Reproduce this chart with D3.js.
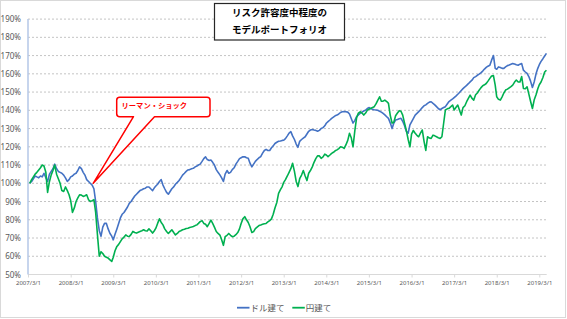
<!DOCTYPE html>
<html>
<head>
<meta charset="utf-8">
<script src="https://cdn.jsdelivr.net/npm/d3@7"></script>
<style>
  body { margin: 0; background: #fff; }
  svg { display: block; font-family: "Noto Sans CJK JP", "Noto Sans", sans-serif; }
</style>
</head>
<body>
<div id="chart"></div>
<script>
// data: half-monthly readings (1st and 16th of each month), first point 2007/3/16
const firstMonth = new Date(2007, 2, 1);

// ドル建て (USD based), %
const usdValues = [
  // 2007/3 - 2008/2
  100, 101, 102.5, 104, 103.5, 103, 104, 103.5, 105.5, 103, 101, 105, 106.5, 108, 110.5, 108, 106.5, 106, 105.5, 104.5, 103, 101, 102,
  // 2008/3 - 2009/2
  103.5, 104, 105, 105.5, 107, 109, 108, 106, 104.5, 102, 101, 100, 99, 97, 90, 81, 74, 71, 76, 78, 78, 75, 72.5, 71,
  // 2009/3 - 2010/2
  69, 72, 75, 78, 81, 83, 84, 85.5, 87, 89, 90, 91.5, 93, 94, 95, 96, 96.5, 97, 97.3, 98, 98, 97, 96, 97.5,
  // 2010/3 - 2011/2
  98.5, 99.5, 101, 102, 99, 97, 95, 94, 95.5, 97, 98, 99.5, 100.5, 101.5, 103, 104.5, 105.5, 106.5, 107.3, 107.5, 108, 108.2, 109, 109.5,
  // 2011/3 - 2012/2
  110, 110.5, 112, 113.5, 114.5, 113, 112.5, 112.8, 111.5, 110, 107.5, 106, 104.6, 103, 101, 105, 107, 105.5, 106, 107.5, 108.5, 110.5, 112, 113.5,
  // 2012/3 - 2013/2
  114, 114.5, 114.5, 114, 113.7, 111, 109, 110.5, 112, 113, 114, 114.6, 116.5, 118, 118.6, 118, 118, 119.5, 120.5, 121.8, 122.5, 123, 123.2, 123.5,
  // 2013/3 - 2014/2
  123.6, 124.5, 126, 127.5, 128.3, 126, 124, 121.5, 119.7, 123, 124, 124.8, 125.5, 127, 128.5, 129.2, 129.5, 129.2, 129, 128.5, 129, 130, 130.5, 131.5,
  // 2014/3 - 2015/2
  132.9, 133.8, 134.7, 135.6, 136.3, 137, 137.4, 138, 138.8, 139.2, 139.3, 139.2, 139, 138, 135.5, 133, 134.5, 136.5, 137.5, 138.3, 139, 139.6, 140.1, 141,
  // 2015/3 - 2016/2
  141.5, 141, 140.5, 140.3, 140.2, 140, 139.5, 139, 138.3, 137.5, 136.5, 135.6, 133, 130, 133, 134.7, 135, 135.4, 135.6, 134, 131.5, 128.5, 127.5, 132,
  // 2016/3 - 2017/2
  133.7, 135.5, 137.4, 138.3, 139.3, 140.3, 141.5, 142.5, 143, 143.8, 144.5, 144.7, 143.8, 143, 142, 141, 140.3, 141, 141.5, 142, 143.5, 144.8, 145.6, 146.3,
  // 2017/3 - 2018/2
  147, 147.8, 148.8, 149.8, 150.9, 151.9, 152.8, 153.7, 154.6, 155.6, 156.5, 157.9, 158.5, 159.2, 159.8, 160.5, 161.5, 162.6, 163.5, 164.2, 164.7, 167.5, 170, 163,
  // 2018/3 - 2019/2
  162.5, 163.8, 163.5, 163, 163, 163.8, 164.5, 164.8, 165.2, 165.6, 165.4, 165, 164.7, 165.3, 165.6, 162, 161, 160.2, 158.5, 156, 152.5, 155.5, 160, 163,
  // 2019/3 - 2019/5
  165, 166.8, 168.3, 169.8, 171.2
];

// 円建て (JPY based), %
const jpyValues = [
  // 2007/3 - 2008/2
  100, 102, 103.5, 105, 106, 107.3, 108.5, 110, 109.5, 106, 95, 101, 104.6, 107, 110, 105, 102.5, 100, 96, 95.5, 98, 96, 93.7,
  // 2008/3 - 2009/2
  90.5, 84, 86.5, 90, 92, 93.7, 93.5, 92.8, 93.2, 93.7, 91, 90, 90.5, 91, 84, 72, 60, 62.5, 61.5, 60, 59.5, 59, 58, 57.2,
  // 2009/3 - 2010/2
  59.5, 63, 65.4, 66.5, 68, 69.5, 70.5, 71.7, 71, 70.8, 72, 73.6, 73, 72.7, 73.2, 73.6, 74, 74.5, 74, 73.8, 75, 74, 72.7, 74,
  // 2010/3 - 2011/2
  75.4, 78, 80.5, 78.5, 77.2, 75, 73.6, 72.5, 73.5, 74.5, 73, 71.7, 72.5, 73.6, 74, 74.5, 74.8, 75.2, 75.4, 75.8, 76, 76.3, 76.8, 77.2,
  // 2011/3 - 2012/2
  78, 79, 79.5, 78, 77.5, 76.2, 78, 79.8, 78, 76, 73.6, 72.5, 71.6, 69, 66, 70.7, 71.5, 72.5, 71.5, 70.7, 71, 71.8, 73, 75,
  // 2012/3 - 2013/2
  78, 80.5, 81.7, 80, 78.5, 76.2, 73, 73.5, 75.2, 76, 76.8, 77.1, 77.5, 77.8, 78, 78.8, 79.5, 80.5, 83, 86.5, 89.5, 94.5, 96.5, 98.2,
  // 2013/3 - 2014/2
  100.5, 102, 104, 106, 108, 111, 106.5, 101, 98.2, 102.5, 104.5, 107, 104, 101.5, 105.5, 107, 109, 111.5, 113.5, 115, 115, 113.7, 114.5, 116,
  // 2014/3 - 2015/2
  115.5, 114.6, 115.5, 116.4, 117, 117.8, 118.3, 119, 120, 119.8, 119.1, 121, 123.5, 127.4, 125, 120, 129, 136, 138.5, 139.2, 138.5, 137.4, 138.5, 140.1,
  // 2015/3 - 2016/2
  140.6, 141, 141.5, 142, 143.5, 145.5, 147.4, 145, 145, 145.6, 144.8, 143.8, 137, 133, 133.5, 137, 138.5, 139.8, 139.5, 137.4, 133, 129, 124, 120,
  // 2016/3 - 2017/2
  127, 129, 127.4, 126.3, 125.5, 127.5, 129.2, 123, 118, 125.5, 124.8, 124.6, 126.4, 126, 125.5, 125, 124.6, 125.5, 132.9, 140.2, 140.8, 141.1, 142, 142.9,
  // 2017/3 - 2018/2
  140.2, 141.5, 142.9, 140, 137.4, 141.5, 142.5, 144.7, 146.5, 148.3, 146.5, 145.6, 148.5, 149.5, 151, 152.3, 153.5, 154, 154.7, 156, 157.5, 158.8, 159, 153.8,
  // 2018/3 - 2019/2
  147.4, 146, 145.6, 147.4, 149.5, 151.1, 151.6, 152.3, 153, 153.8, 155.5, 156.6, 155.5, 155.5, 158.5, 152, 151.8, 152.9, 149, 145, 141, 145.6, 148.5, 151.8,
  // 2019/3 - 2019/5
  154, 155.5, 158, 161, 162
];

const yTicks = [50, 60, 70, 80, 90, 100, 110, 120, 130, 140, 150, 160, 170, 180, 190];
const xTickYears = [2007, 2008, 2009, 2010, 2011, 2012, 2013, 2014, 2015, 2016, 2017, 2018, 2019];
const seriesNames = ["ドル建て", "円建て"];
const titleLines = ["リスク許容度中程度の", "モデルポートフォリオ"];
const note = {date: new Date(2008, 8, 10), value: 100, label: "リーマン・ショック"};

// dates for the half-monthly points
const dates = usdValues.map(function (d, i) {
    let m = 0.5 + i * 0.5;
    return new Date(2007, 2 + Math.floor(m), (m % 1) ? 16 : 1);
});

const W = 567, H = 319;
const colors = ["#4472c4", "#00b050"];

const svg = d3.select("#chart").append("svg")
    .attr("width", W)
    .attr("height", H);

svg.append("rect")
    .attr("x", 0.5).attr("y", 0.5)
    .attr("width", W - 2).attr("height", H - 2)
    .attr("fill", "#fff")
    .attr("stroke", "#d9d9d9");

// scales
const x = d3.scaleTime()
    .domain([new Date(2007, 2, 1), new Date(2019, 2, 1)])
    .range([28, 539.3]);
const plotLeft = 28, plotRight = 546.7;

const y = d3.scaleLinear()
    .domain([50, 190])
    .range([274.5, 19.1]);

// grid
svg.append("g")
    .selectAll("line")
    .data(yTicks.slice(1))
    .join("line")
    .attr("x1", plotLeft).attr("x2", plotRight)
    .attr("y1", d => y(d)).attr("y2", d => y(d))
    .attr("stroke", "#c4c4c4")
    .attr("stroke-width", 1)
    .attr("stroke-dasharray", "2,2");

// y axis labels
const yAxis = svg.append("g")
    .attr("transform", "translate(" + plotLeft + ",0)")
    .call(d3.axisLeft(y).tickValues(yTicks).tickSize(0).tickPadding(7).tickFormat(d => d + "%"));
yAxis.select(".domain").remove();
yAxis.selectAll("text")
    .attr("fill", "#595959")
    .style("font-size", "8px")
    .style("font-family", "'Noto Sans', sans-serif");

// x axis
const xAxis = svg.append("g")
    .attr("transform", "translate(0," + y(50) + ")")
    .call(d3.axisBottom(x)
        .tickValues(xTickYears.map(yr => new Date(yr, 2, 1)))
        .tickSize(3)
        .tickPadding(3)
        .tickFormat(d3.timeFormat("%Y/%-m/%-d")));
xAxis.select(".domain").remove();
xAxis.selectAll(".tick line").attr("stroke", "#d9d9d9");
xAxis.selectAll("text")
    .attr("fill", "#595959")
    .style("font-size", "6px")
    .style("font-family", "'Noto Sans', sans-serif");

svg.append("line")
    .attr("x1", plotLeft).attr("x2", plotRight)
    .attr("y1", y(50)).attr("y2", y(50))
    .attr("stroke", "#d9d9d9");

svg.append("line")
    .attr("x1", plotLeft).attr("x2", plotLeft)
    .attr("y1", y(190)).attr("y2", y(50))
    .attr("stroke", "#b4c7e7")
    .attr("stroke-width", 1.5);

// lines
const line = d3.line()
    .x(d => x(d.date))
    .y(d => y(d.value));

[usdValues, jpyValues].forEach(function (vals, k) {
    svg.append("path")
        .datum(vals.map((v, i) => ({date: dates[i], value: v})))
        .attr("fill", "none")
        .attr("stroke", colors[k])
        .attr("stroke-width", 1.6)
        .attr("stroke-linejoin", "round")
        .attr("d", line);
});

// title box
const title = svg.append("g");
title.append("rect")
    .attr("x", 214.5).attr("y", 3.5)
    .attr("width", 130).attr("height", 36.5)
    .attr("fill", "#fff")
    .attr("stroke", "#262626")
    .attr("stroke-width", 1.2);
title.selectAll("text")
    .data(titleLines)
    .join("text")
    .attr("x", 279.5)
    .attr("y", (d, i) => 16 + i * 16.6)
    .attr("text-anchor", "middle")
    .attr("font-weight", "bold")
    .style("font-size", "9.5px")
    .attr("fill", "#000")
    .text(d => d);

// callout
const bx1 = 116.7, bx2 = 210, by1 = 97.3, by2 = 116.7, r = 3;
const px1 = 133.5, px2 = 154.5;
const tx = x(note.date), ty = y(note.value);
svg.append("path")
    .attr("d", "M" + (bx1 + r) + "," + by1 + "H" + (bx2 - r) + "Q" + bx2 + "," + by1 + " " + bx2 + "," + (by1 + r) +
        "V" + (by2 - r) + "Q" + bx2 + "," + by2 + " " + (bx2 - r) + "," + by2 +
        "H" + px2 + "L" + tx + "," + ty + "L" + px1 + "," + by2 +
        "H" + (bx1 + r) + "Q" + bx1 + "," + by2 + " " + bx1 + "," + (by2 - r) +
        "V" + (by1 + r) + "Q" + bx1 + "," + by1 + " " + (bx1 + r) + "," + by1 + "Z")
    .attr("fill", "#fff")
    .attr("stroke", "#ff0000")
    .attr("stroke-width", 1.5)
    .attr("stroke-linejoin", "round");
svg.append("text")
    .attr("x", 121.5)
    .attr("y", 108.4)
    .attr("font-weight", "bold")
    .style("font-size", "7.3px")
    .attr("fill", "#ff0000")
    .text(note.label);

// legend
const legendX = [237, 292.3];
const legend = svg.append("g");
seriesNames.forEach(function (name, k) {
    legend.append("line")
        .attr("x1", legendX[k]).attr("x2", legendX[k] + 12.5)
        .attr("y1", 307.7).attr("y2", 307.7)
        .attr("stroke", colors[k])
        .attr("stroke-width", 1.8);
    legend.append("text")
        .attr("x", legendX[k] + 13.5)
        .attr("y", 310.7)
        .style("font-size", "8.5px")
        .attr("fill", "#595959")
        .text(name);
});
</script>
</body>
</html>
